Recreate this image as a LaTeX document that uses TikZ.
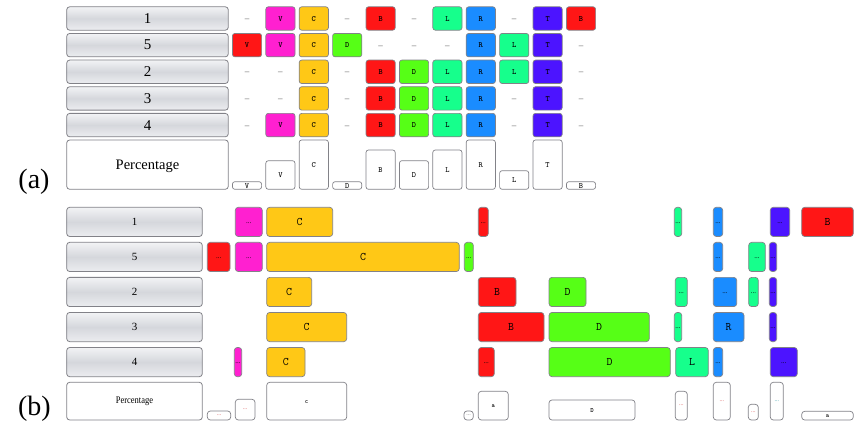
\documentclass[tikz,border=0pt]{standalone}
\usepackage{fontspec}
\setmainfont{Liberation Serif}
\newcommand\monof{\ttfamily}
\definecolor{cMag}{RGB}{255,32,208}
\definecolor{cOrg}{RGB}{255,200,22}
\definecolor{cRed}{RGB}{255,22,22}
\definecolor{cGrn}{RGB}{86,255,22}
\definecolor{cTeal}{RGB}{22,255,140}
\definecolor{cBlue}{RGB}{26,140,255}
\definecolor{cPur}{RGB}{76,20,255}
\definecolor{cEdge}{RGB}{130,130,136}
\definecolor{lblTop}{RGB}{242,243,245}
\definecolor{lblMid}{RGB}{213,215,220}
\definecolor{lblBot}{RGB}{236,237,240}
\definecolor{dotRed}{RGB}{220,90,90}
\definecolor{dotTeal}{RGB}{60,160,170}
\newcommand\ctext[1]{\makebox[0pt]{\raisebox{-0.33em}[0pt][0pt]{#1}}}
% generic box: name, x1, y1, x2, y2, style, text
\newcommand\mybox[7]{\node[#6, minimum width={(#4)-(#2)}, minimum height={(#5)-(#3)}] (#1) at ({((#2)+(#4))/2},{((#3)+(#5))/2}) {\ctext{#7}};}
% (a) grid cell: name, col, row, colour, text
\newcommand\acell[5]{\mybox{#1}{232.4+33.4*#2}{6.8+26.65*#3}{261.6+33.4*#2}{30.2+26.65*#3}{cellA, fill=#4}{#5}}
\newcommand\adash[3]{\node[dashst] (#1) at ({247+33.4*#2},{18.5+26.65*#3}) {\ctext{–}};}
\newcommand\apct[4]{\mybox{#1}{232.4+33.4*#2}{#3}{261.6+33.4*#2}{189.3}{pctA}{#4}}
% (b) cell: name, x1, x2, row, colour, text
\newcommand\bcell[6]{\mybox{#1}{#2}{207.3+35.05*#4}{#3}{236.5+35.05*#4}{cellB, fill=#5}{#6}}
\newcommand\bpct[5]{\mybox{#1}{#2}{#4}{#3}{420}{pctB}{#5}}
\newcommand\dd{{\rmfamily\fontsize{7}{7}\selectfont\raisebox{2pt}{...}}}
\newcommand\rd[1]{{\rmfamily\mdseries\fontsize{6}{6}\selectfont\color{#1}\raisebox{2pt}{...}}}
\begin{document}
\begin{tikzpicture}[x=1pt,y=-1pt,
  lbl/.style={draw=cEdge, line width=0.8pt, rounded corners=3pt, top color=lblTop, bottom color=lblBot, middle color=lblMid, inner sep=0pt},
  lblA/.style={lbl, font=\fontsize{15}{15}\selectfont},
  lblB/.style={lbl, font=\fontsize{11}{11}\selectfont},
  pctlblA/.style={draw=cEdge, line width=0.8pt, rounded corners=3pt, fill=white, inner sep=0pt, font=\fontsize{14.5}{15}\selectfont},
  pctlblB/.style={draw=cEdge, line width=0.8pt, rounded corners=3pt, fill=white, inner sep=0pt, font=\fontsize{10}{10}\selectfont},
  cellA/.style={draw=cEdge, line width=0.7pt, rounded corners=2.5pt, inner sep=0pt, font=\monof\bfseries\fontsize{8}{8}\selectfont},
  cellB/.style={draw=cEdge, line width=0.7pt, rounded corners=3pt, inner sep=0pt, font=\monof\fontsize{11.5}{11.5}\selectfont},
  pctA/.style={draw=cEdge, line width=0.7pt, rounded corners=2.5pt, fill=white, inner sep=0pt, font=\monof\fontsize{8}{8}\selectfont},
  pctB/.style={draw=cEdge, line width=0.7pt, rounded corners=3pt, fill=white, inner sep=0pt, font=\monof\bfseries\fontsize{6.5}{6.5}\selectfont},
  dashst/.style={inner sep=0pt, text=gray!70!black, font=\fontsize{9}{9}\selectfont},
  tag/.style={inner sep=0pt, font=\fontsize{28}{28}\selectfont}
]
\useasboundingbox (0,0) rectangle (862,446);
\fill[white] (0,0) rectangle (862,446);

% ---------------- (a) ----------------
\node[tag] (taga) at (34,182) {(a)};
\node[lblA, minimum width=161.6, minimum height=23.4] (la1) at (147.5,18.5) {1};
\node[lblA, minimum width=161.6, minimum height=23.4] (la5) at (147.5,45.15) {5};
\node[lblA, minimum width=161.6, minimum height=23.4] (la2) at (147.5,71.8) {2};
\node[lblA, minimum width=161.6, minimum height=23.4] (la3) at (147.5,98.45) {3};
\node[lblA, minimum width=161.6, minimum height=23.4] (la4) at (147.5,125.1) {4};
\node[pctlblA, minimum width=161.6, minimum height=49.3] (lap) at (147.5,164.65) {\makebox[0pt]{\raisebox{-5pt}[0pt][0pt]{Percentage}}};

% row 1
\adash{a00}{0}{0}
\acell{a01}{1}{0}{cMag}{V}
\acell{a02}{2}{0}{cOrg}{C}
\adash{a03}{3}{0}
\acell{a04}{4}{0}{cRed}{B}
\adash{a05}{5}{0}
\acell{a06}{6}{0}{cTeal}{L}
\acell{a07}{7}{0}{cBlue}{R}
\adash{a08}{8}{0}
\acell{a09}{9}{0}{cPur}{T}
\acell{a010}{10}{0}{cRed}{B}
% row 5
\acell{a10}{0}{1}{cRed}{V}
\acell{a11}{1}{1}{cMag}{V}
\acell{a12}{2}{1}{cOrg}{C}
\acell{a13}{3}{1}{cGrn}{D}
\adash{a14}{4}{1}
\adash{a15}{5}{1}
\adash{a16}{6}{1}
\acell{a17}{7}{1}{cBlue}{R}
\acell{a18}{8}{1}{cTeal}{L}
\acell{a19}{9}{1}{cPur}{T}
\adash{a110}{10}{1}
% row 2
\adash{a20}{0}{2}
\adash{a21}{1}{2}
\acell{a22}{2}{2}{cOrg}{C}
\adash{a23}{3}{2}
\acell{a24}{4}{2}{cRed}{B}
\acell{a25}{5}{2}{cGrn}{D}
\acell{a26}{6}{2}{cTeal}{L}
\acell{a27}{7}{2}{cBlue}{R}
\acell{a28}{8}{2}{cTeal}{L}
\acell{a29}{9}{2}{cPur}{T}
\adash{a210}{10}{2}
% row 3
\adash{a30}{0}{3}
\adash{a31}{1}{3}
\acell{a32}{2}{3}{cOrg}{C}
\adash{a33}{3}{3}
\acell{a34}{4}{3}{cRed}{B}
\acell{a35}{5}{3}{cGrn}{D}
\acell{a36}{6}{3}{cTeal}{L}
\acell{a37}{7}{3}{cBlue}{R}
\adash{a38}{8}{3}
\acell{a39}{9}{3}{cPur}{T}
\adash{a310}{10}{3}
% row 4
\adash{a40}{0}{4}
\acell{a41}{1}{4}{cMag}{V}
\acell{a42}{2}{4}{cOrg}{C}
\adash{a43}{3}{4}
\acell{a44}{4}{4}{cRed}{B}
\acell{a45}{5}{4}{cGrn}{D}
\acell{a46}{6}{4}{cTeal}{L}
\acell{a47}{7}{4}{cBlue}{R}
\adash{a48}{8}{4}
\acell{a49}{9}{4}{cPur}{T}
\adash{a410}{10}{4}
% percentage row (a)
\apct{ap0}{0}{181.7}{V}
\apct{ap1}{1}{160.7}{V}
\apct{ap2}{2}{140}{C}
\apct{ap3}{3}{181.7}{D}
\apct{ap4}{4}{150}{B}
\apct{ap5}{5}{160.7}{D}
\apct{ap6}{6}{150}{L}
\apct{ap7}{7}{140}{R}
\apct{ap8}{8}{170.7}{L}
\apct{ap9}{9}{140}{T}
\apct{ap10}{10}{181.7}{B}

% ---------------- (b) ----------------
\node[tag] (tagb) at (34.5,409) {(b)};
\node[lblB, minimum width=135.6, minimum height=29.2] (lb1) at (134.5,221.9) {1};
\node[lblB, minimum width=135.6, minimum height=29.2] (lb5) at (134.5,256.95) {5};
\node[lblB, minimum width=135.6, minimum height=29.2] (lb2) at (134.5,292.0) {2};
\node[lblB, minimum width=135.6, minimum height=29.2] (lb3) at (134.5,327.05) {3};
\node[lblB, minimum width=135.6, minimum height=29.2] (lb4) at (134.5,362.1) {4};
\node[pctlblB, minimum width=135.6, minimum height=37.7] (lbp) at (134.5,401.15) {\scalebox{0.85}[1]{Percentage}};

% row 1
\bcell{b00}{235.3}{262.3}{0}{cMag}{\dd}
\bcell{b01}{266.7}{332.7}{0}{cOrg}{C}
\bcell{b02}{478.3}{488.3}{0}{cRed}{\dd}
\bcell{b03}{674.3}{681.7}{0}{cTeal}{\dd}
\bcell{b04}{713.3}{722.7}{0}{cBlue}{\dd}
\bcell{b05}{770.3}{789.7}{0}{cPur}{\dd}
\bcell{b06}{801.7}{853.3}{0}{cRed}{B}
% row 5
\bcell{b10}{207.3}{230}{1}{cRed}{\dd}
\bcell{b11}{235.3}{262.3}{1}{cMag}{\dd}
\bcell{b12}{266.7}{459.3}{1}{cOrg}{C}
\bcell{b13}{464.3}{473.3}{1}{cGrn}{\dd}
\bcell{b14}{713.3}{722.7}{1}{cBlue}{\dd}
\bcell{b15}{748.7}{765.3}{1}{cTeal}{\dd}
\bcell{b16}{769.3}{776.7}{1}{cPur}{\dd}
% row 2
\bcell{b20}{266.7}{311.7}{2}{cOrg}{C}
\bcell{b21}{478.3}{516}{2}{cRed}{B}
\bcell{b22}{549}{586}{2}{cGrn}{D}
\bcell{b23}{675.3}{687.3}{2}{cTeal}{\dd}
\bcell{b24}{713.3}{736.7}{2}{cBlue}{\dd}
\bcell{b25}{748.7}{758.3}{2}{cTeal}{\dd}
\bcell{b26}{769.3}{776.7}{2}{cPur}{\dd}
% row 3
\bcell{b30}{266.7}{346.7}{3}{cOrg}{C}
\bcell{b31}{478.3}{544}{3}{cRed}{B}
\bcell{b32}{549}{649.3}{3}{cGrn}{D}
\bcell{b33}{674.3}{681.7}{3}{cTeal}{\dd}
\bcell{b34}{713.3}{744}{3}{cBlue}{R}
\bcell{b35}{769.3}{776.7}{3}{cPur}{\dd}
% row 4
\bcell{b40}{234.3}{241.7}{4}{cMag}{\dd}
\bcell{b41}{266.7}{305}{4}{cOrg}{C}
\bcell{b42}{478.3}{494.3}{4}{cRed}{\dd}
\bcell{b43}{549}{670.3}{4}{cGrn}{D}
\bcell{b44}{675.7}{708.3}{4}{cTeal}{L}
\bcell{b45}{713.3}{722.7}{4}{cBlue}{\dd}
\bcell{b46}{770.3}{797.3}{4}{cPur}{\dd}
% percentage row (b)
\bpct{bp0}{207.3}{230.7}{411}{\rd{dotRed}}
\bpct{bp1}{235.3}{255}{399.3}{\rd{dotRed}}
\bpct{bp2}{266.7}{346.7}{382.3}{c}
\bpct{bp3}{464}{473.3}{411}{\rd{gray}}
\bpct{bp4}{478.3}{508.3}{391.3}{a}
\bpct{bp5}{549}{635}{400}{D}
\bpct{bp6}{675.3}{687.3}{391.3}{\rd{dotRed}}
\bpct{bp7}{713.3}{730.3}{382.3}{\rd{dotRed}}
\bpct{bp8}{748.3}{758.3}{404.3}{\rd{dotRed}}
\bpct{bp9}{770.3}{783.3}{382.3}{\rd{dotTeal}}
\bpct{bp10}{801.7}{853.3}{411.3}{a}
\end{tikzpicture}
\end{document}
